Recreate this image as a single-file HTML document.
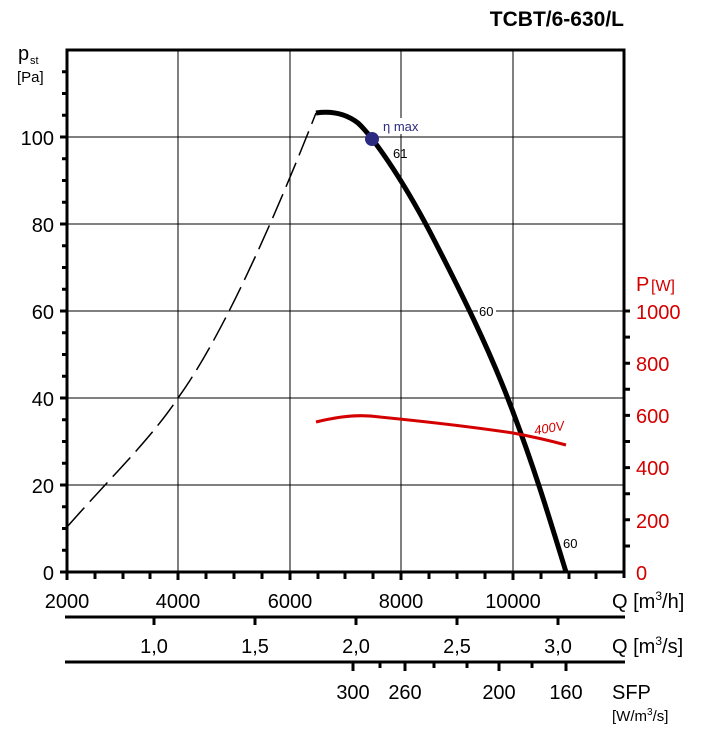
<!DOCTYPE html><html><head><style>body{margin:0;background:#fff}svg{font-family:"Liberation Sans",sans-serif}</style></head><body>
<svg width="702" height="739" viewBox="0 0 702 739" xmlns="http://www.w3.org/2000/svg">
<rect width="702" height="739" fill="#fff"/>
<text x="624" y="26" text-anchor="end" font-size="21" font-weight="bold">TCBT/6-630/L</text>
<g stroke="#000" stroke-width="1">
<line x1="178" y1="50" x2="178" y2="572"/><line x1="290" y1="50" x2="290" y2="572"/><line x1="401" y1="50" x2="401" y2="572"/><line x1="513" y1="50" x2="513" y2="572"/>
<line x1="67" y1="485" x2="624" y2="485"/><line x1="67" y1="398" x2="624" y2="398"/><line x1="67" y1="311" x2="624" y2="311"/><line x1="67" y1="224" x2="624" y2="224"/><line x1="67" y1="137" x2="624" y2="137"/>
</g>
<rect x="67" y="50" width="557" height="522" fill="none" stroke="#000" stroke-width="3"/>
<g stroke="#000" stroke-width="3">
<line x1="60" y1="572" x2="67" y2="572"/><line x1="60" y1="485" x2="67" y2="485"/><line x1="60" y1="398" x2="67" y2="398"/><line x1="60" y1="311" x2="67" y2="311"/><line x1="60" y1="224" x2="67" y2="224"/><line x1="60" y1="137" x2="67" y2="137"/>
<path d="M62 550.3h5M62 528.5h5M62 506.8h5M62 463.3h5M62 441.5h5M62 419.8h5M62 376.3h5M62 354.5h5M62 332.8h5M62 289.3h5M62 267.5h5M62 245.8h5M62 202.3h5M62 180.5h5M62 158.8h5M62 115.3h5M62 93.5h5M62 71.8h5"/>
<path d="M624 546h6M624 519.8h6M624 493.7h6M624 467.6h6M624 441.5h6M624 415.4h6M624 389.3h6M624 363.2h6M624 337.1h6M624 311h6"/>
<path d="M95 572v7M123 572v7M150 572v7M206 572v7M234 572v7M262 572v7M318 572v7M345 572v7M373 572v7M429 572v7M457 572v7M485 572v7M541 572v7M569 572v7M596 572v7"/>
<path d="M67 572v8M178 572v8M290 572v8M401 572v8M513 572v8M624 572v6"/>
<line x1="65" y1="617" x2="625" y2="617"/>
<path d="M154 617v8M255 617v8M356 617v8M457 617v8M558 617v8"/>
<line x1="65" y1="662" x2="625" y2="662"/>
<path d="M353 662v9M405 662v9M499 662v9M566 662v9"/>
<path d="M380 662v6M434 662v6M467 662v6M532 662v6"/>
</g>
<g font-size="20" text-anchor="end">
<text x="54" y="580">0</text><text x="54" y="493">20</text><text x="54" y="406">40</text><text x="54" y="319">60</text><text x="54" y="232">80</text><text x="54" y="145">100</text>
</g>
<text x="18" y="60" font-size="20">p</text><text x="30" y="64" font-size="11">st</text>
<text x="17" y="82" font-size="15">[Pa]</text>
<g font-size="20" fill="#d40000">
<text x="636" y="580">0</text><text x="636" y="528">200</text><text x="636" y="475">400</text><text x="636" y="423">600</text><text x="636" y="371">800</text><text x="636" y="319">1000</text>
<text x="636" y="291">P</text><text x="651" y="291" font-size="16">[W]</text>
</g>
<g font-size="20" text-anchor="middle">
<text x="67" y="608">2000</text><text x="178" y="608">4000</text><text x="290" y="608">6000</text><text x="401" y="608">8000</text><text x="513" y="608">10000</text>
<text x="154" y="653">1,0</text><text x="255" y="653">1,5</text><text x="356" y="653">2,0</text><text x="457" y="653">2,5</text><text x="558" y="653">3,0</text>
<text x="353" y="699">300</text><text x="405" y="699">260</text><text x="499" y="699">200</text><text x="566" y="699">160</text>
</g>
<text x="612" y="608" font-size="20">Q [m<tspan font-size="12" dy="-8">3</tspan><tspan dy="8">/h]</tspan></text>
<text x="612" y="653" font-size="20">Q [m<tspan font-size="12" dy="-8">3</tspan><tspan dy="8">/s]</tspan></text>
<text x="612" y="699" font-size="20">SFP</text>
<text x="612" y="721" font-size="15">[W/m<tspan font-size="10" dy="-6">3</tspan><tspan dy="6">/s]</tspan></text>
<path d="M67 527 C110 478 150 440 178 398 C220 340 270 230 316 113" fill="none" stroke="#000" stroke-width="1.5" stroke-dasharray="26,8"/>
<path d="M316 113 C330 111 345 113 358 123 C372 136 400 175 430 232 C460 290 490 350 513 412 C535 470 550 520 566 572" fill="none" stroke="#000" stroke-width="5"/>
<path d="M316 422 C340 416 360 414 380 417 C430 422 480 428 513 433 C540 438 555 442 566 445" fill="none" stroke="#d40000" stroke-width="3"/>
<rect x="380" y="118" width="42" height="16" fill="#fff"/>
<circle cx="372" cy="139" r="7" fill="#2a2a80"/>
<text x="383" y="131" font-size="13" fill="#2a2a80">η max</text>
<text x="393" y="158" font-size="13">61</text>
<rect x="478" y="304" width="18" height="14" fill="#fff"/>
<text x="479" y="316" font-size="13">60</text>
<text x="563" y="548" font-size="13">60</text>
<text x="535" y="435" font-size="13" fill="#d40000" font-style="italic" transform="rotate(-10 535 435)">400V</text>
</svg>
</body></html>
